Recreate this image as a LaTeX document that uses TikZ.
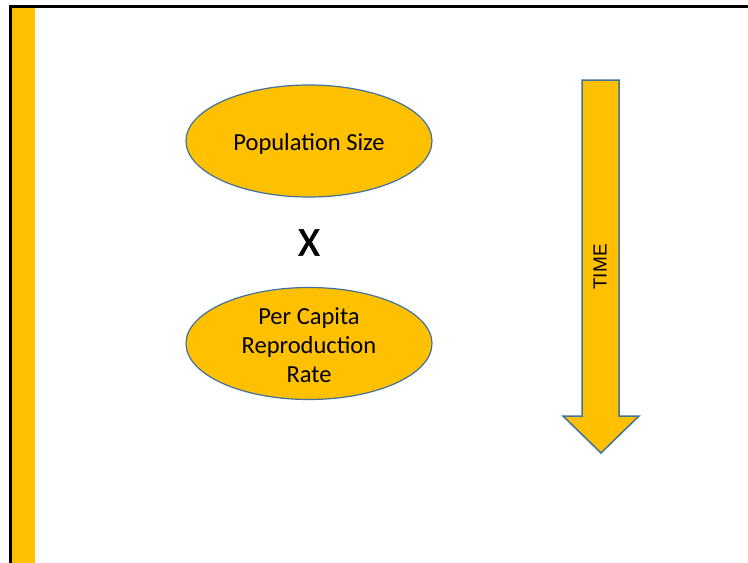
\documentclass[tikz,border=0pt]{standalone}
\usepackage{fontspec}
\setmainfont{Carlito}
\newfontfamily\arialf{Liberation Sans}
\newfontface\xfont{Carlito}[FakeBold=1.6]
\usetikzlibrary{shapes.geometric}
\definecolor{gold}{HTML}{FFC000}
\definecolor{edgeblue}{HTML}{41719C}
\begin{document}
\begin{tikzpicture}[x=1pt,y=-1pt,
  oval/.style={ellipse,draw=edgeblue,line width=1.2pt,fill=gold,inner sep=0pt,
    minimum width=246pt,minimum height=112pt,align=center,font=\fontsize{24.5}{29}\selectfont}]
\useasboundingbox (0,0) rectangle (748,563);
\fill[white] (0,0) rectangle (748,563);
% yellow bar and frame
\fill[gold] (12,8) rectangle (35,563);
\draw[black,line width=3pt] (10.5,563) -- (10.5,6.5) -- (748,6.5);
% ellipses
\node[oval] (pop) at (309,141) {};
\node[font=\fontsize{24.5}{29}\selectfont] (poptext) at (309,143.5) {Population Size};
\node[oval] (rate) at (309,343.5) {};
\node[font=\fontsize{24.5}{29}\selectfont,align=center] (ratetext) at (309,345.5) {Per Capita\\Reproduction\\Rate};
\node[font=\xfont\fontsize{41}{43}\selectfont] (x) at (309,242.5) {X};
% arrow
\draw[edgeblue,fill=gold,line width=1.5pt,line join=miter]
  (582,80) -- (619,80) -- (619,416) -- (639,416) -- (601,453) -- (563,416) -- (582,416) -- cycle;
\node[rotate=90,font=\arialf\fontsize{19}{21}\selectfont] (time) at (600,267) {TIME};
\end{tikzpicture}
\end{document}
